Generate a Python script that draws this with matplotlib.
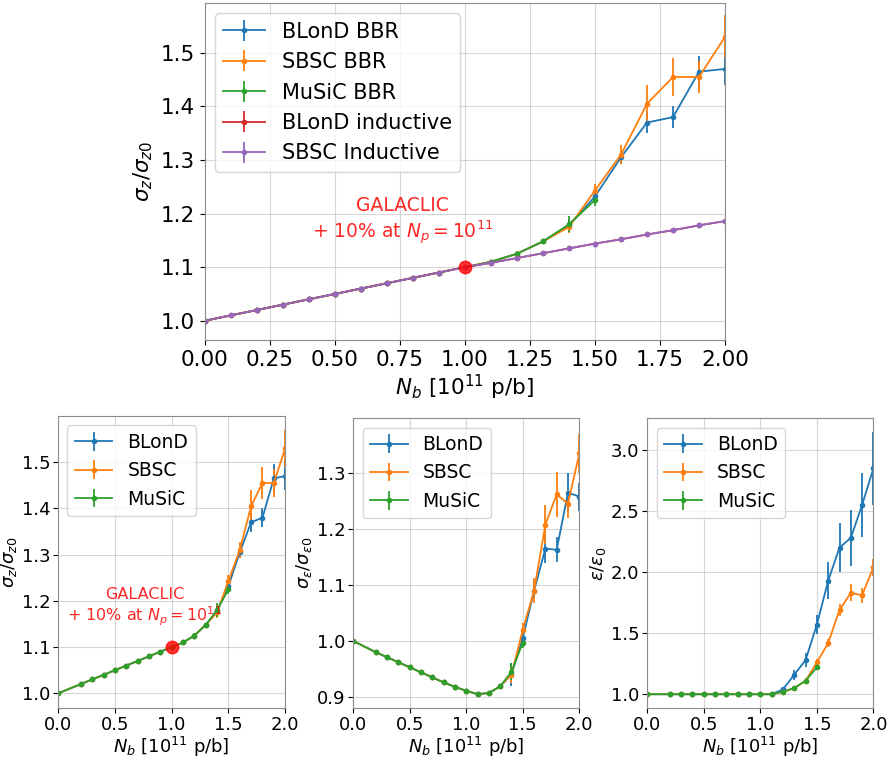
import matplotlib.pyplot as plt

plt.rcParams['font.family'] = ['DejaVu Sans']
plt.rcParams['axes.edgecolor'] = '0.55'

# intensity scan (x) for inductive model and the BBR runs
x_ind = [0.0, 0.1, 0.2, 0.3, 0.4, 0.5, 0.6, 0.7, 0.8, 0.9, 1.0,
         1.1, 1.2, 1.3, 1.4, 1.5, 1.6, 1.7, 1.8, 1.9, 2.0]
x_bbr = [0.0, 0.2, 0.3, 0.4, 0.5, 0.6, 0.7, 0.8, 0.9, 1.0,
         1.1, 1.2, 1.3, 1.4, 1.5, 1.6, 1.7, 1.8, 1.9, 2.0]
x_music = x_bbr[:15]

# inductive bunch lengthening
sz_blond_ind = [1.000, 1.010, 1.020, 1.030, 1.040, 1.050, 1.060, 1.070, 1.080, 1.090, 1.100,
                1.108, 1.117, 1.126, 1.135, 1.144, 1.152, 1.161, 1.169, 1.178, 1.186]
sz_sbsc_ind = [1.000, 1.010, 1.020, 1.030, 1.040, 1.050, 1.060, 1.070, 1.080, 1.090, 1.100,
               1.108, 1.117, 1.126, 1.135, 1.144, 1.152, 1.161, 1.169, 1.178, 1.186]

# sigma_z / sigma_z0 with BBR
sz_blond = [1.000, 1.020, 1.030, 1.040, 1.050, 1.060, 1.070, 1.080, 1.090, 1.100,
            1.110, 1.125, 1.148, 1.178, 1.232, 1.305, 1.370, 1.380, 1.465, 1.470]
sz_blond_err = [0, 0, 0, 0, 0, 0, 0, 0, 0, 0,
                0.003, 0.004, 0.005, 0.012, 0.010, 0.012, 0.020, 0.020, 0.030, 0.030]
sz_sbsc = [1.000, 1.020, 1.030, 1.040, 1.050, 1.060, 1.070, 1.080, 1.090, 1.100,
           1.110, 1.125, 1.148, 1.175, 1.243, 1.310, 1.405, 1.455, 1.455, 1.530]
sz_sbsc_err = [0, 0, 0, 0, 0, 0, 0, 0, 0, 0,
               0.003, 0.004, 0.005, 0.012, 0.012, 0.018, 0.035, 0.035, 0.030, 0.040]
sz_music = [1.000, 1.020, 1.030, 1.040, 1.050, 1.060, 1.070, 1.080, 1.090, 1.100,
            1.110, 1.125, 1.148, 1.180, 1.225]
sz_music_err = [0, 0, 0, 0, 0, 0, 0, 0, 0, 0,
                0.003, 0.005, 0.004, 0.015, 0.010]

# energy spread sigma_eps / sigma_eps0
se_blond = [1.000, 0.980, 0.971, 0.962, 0.953, 0.944, 0.935, 0.926, 0.918, 0.911,
            0.905, 0.907, 0.919, 0.940, 1.005, 1.090, 1.165, 1.163, 1.265, 1.258]
se_blond_err = [0, 0, 0, 0, 0, 0, 0, 0, 0, 0,
                0.003, 0.003, 0.005, 0.020, 0.012, 0.015, 0.025, 0.022, 0.035, 0.025]
se_sbsc = [1.000, 0.980, 0.971, 0.962, 0.953, 0.944, 0.935, 0.926, 0.918, 0.911,
           0.905, 0.907, 0.919, 0.940, 1.020, 1.090, 1.208, 1.262, 1.245, 1.335]
se_sbsc_err = [0, 0, 0, 0, 0, 0, 0, 0, 0, 0,
               0.003, 0.003, 0.005, 0.015, 0.012, 0.022, 0.035, 0.040, 0.025, 0.035]
se_music = [1.000, 0.980, 0.971, 0.962, 0.953, 0.944, 0.935, 0.926, 0.918, 0.911,
            0.905, 0.907, 0.919, 0.945, 0.997]
se_music_err = [0, 0, 0, 0, 0, 0, 0, 0, 0, 0,
                0.003, 0.003, 0.004, 0.015, 0.010]

# emittance eps / eps0
em_blond = [1.00, 1.00, 1.00, 1.00, 1.00, 1.00, 1.00, 1.00, 1.00, 1.00,
            1.00, 1.04, 1.16, 1.28, 1.57, 1.93, 2.20, 2.28, 2.55, 2.85]
em_blond_err = [0, 0, 0, 0, 0, 0, 0, 0, 0, 0,
                0.005, 0.015, 0.04, 0.06, 0.08, 0.15, 0.20, 0.23, 0.26, 0.30]
em_sbsc = [1.00, 1.00, 1.00, 1.00, 1.00, 1.00, 1.00, 1.00, 1.00, 1.00,
           1.00, 1.02, 1.05, 1.11, 1.26, 1.42, 1.69, 1.83, 1.81, 2.04]
em_sbsc_err = [0, 0, 0, 0, 0, 0, 0, 0, 0, 0,
               0.005, 0.01, 0.015, 0.02, 0.03, 0.03, 0.05, 0.07, 0.06, 0.07]
em_music = [1.00, 1.00, 1.00, 1.00, 1.00, 1.00, 1.00, 1.00, 1.00, 1.00,
            1.00, 1.02, 1.05, 1.11, 1.22]
em_music_err = [0, 0, 0, 0, 0, 0, 0, 0, 0, 0,
                0.005, 0.01, 0.01, 0.015, 0.02]

galaclic_x = [1.0]
galaclic_y = [1.1]
galaclic_label = 'GALACLIC\n+ 10% at $N_p = 10^{11}$'
xlabel = '$N_b$ [$10^{11}$ p/b]'

eb = dict(marker='.', markersize=6, lw=1.3, elinewidth=1.3)

fig = plt.figure(figsize=(8.94, 7.59), dpi=100)

# top panel
ax = fig.add_axes([0.229, 0.552, 0.582, 0.444])
ax.errorbar(x_bbr, sz_blond, yerr=sz_blond_err, color='C0', label='BLonD BBR', **eb)
ax.errorbar(x_bbr, sz_sbsc, yerr=sz_sbsc_err, color='C1', label='SBSC BBR', **eb)
ax.errorbar(x_music, sz_music, yerr=sz_music_err, color='C2', label='MuSiC BBR', **eb)
ax.errorbar(x_ind, sz_blond_ind, yerr=0, color='C3', label='BLonD inductive', **eb)
ax.errorbar(x_ind, sz_sbsc_ind, yerr=0, color='C4', label='SBSC Inductive', **eb)
ax.plot(galaclic_x, galaclic_y, 'o', color='red', markersize=9, alpha=0.8, zorder=5)
ax.text(0.76, 1.185, galaclic_label, color='red', ha='center', va='center',
        fontsize=13.5, alpha=0.85)
ax.set_xlim(0, 2)
ax.set_ylim(0.964, 1.593)
ax.set_xticks([0, 0.25, 0.5, 0.75, 1.0, 1.25, 1.5, 1.75, 2.0])
ax.tick_params(labelsize=15.5)
ax.set_xlabel(xlabel, fontsize=15.5, labelpad=2)
ax.set_ylabel(r'$\sigma_z/\sigma_{z0}$', fontsize=15.5)
ax.grid(True, alpha=0.5)
ax.legend(loc='upper left', fontsize=15)

# bottom panels
bottom = [
    ([0.065, 0.067, 0.254, 0.385], (sz_blond, sz_blond_err), (sz_sbsc, sz_sbsc_err),
     (sz_music, sz_music_err), r'$\sigma_z/\sigma_{z0}$', (0.968, 1.600), [1.0, 1.1, 1.2, 1.3, 1.4, 1.5]),
    ([0.395, 0.067, 0.253, 0.382], (se_blond, se_blond_err), (se_sbsc, se_sbsc_err),
     (se_music, se_music_err), r'$\sigma_\varepsilon/\sigma_{\varepsilon0}$', (0.88, 1.398), [0.9, 1.0, 1.1, 1.2, 1.3]),
    ([0.724, 0.067, 0.253, 0.382], (em_blond, em_blond_err), (em_sbsc, em_sbsc_err),
     (em_music, em_music_err), r'$\varepsilon/\varepsilon_0$', (0.886, 3.26), [1.0, 1.5, 2.0, 2.5, 3.0]),
]

for i, (rect, blond, sbsc, music, ylab, ylim, yticks) in enumerate(bottom):
    ax = fig.add_axes(rect)
    ax.errorbar(x_bbr, blond[0], yerr=blond[1], color='C0', label='BLonD', **eb)
    ax.errorbar(x_bbr, sbsc[0], yerr=sbsc[1], color='C1', label='SBSC', **eb)
    ax.errorbar(x_music, music[0], yerr=music[1], color='C2', label='MuSiC', **eb)
    if i == 0:
        ax.plot(galaclic_x, galaclic_y, 'o', color='red', markersize=9, alpha=0.8, zorder=5)
        ax.text(0.76, 1.186, galaclic_label, color='red', ha='center', va='center',
                fontsize=11.5, alpha=0.85)
    ax.set_xlim(0, 2)
    ax.set_ylim(*ylim)
    ax.set_xticks([0, 0.5, 1.0, 1.5, 2.0])
    ax.set_yticks(yticks)
    ax.tick_params(labelsize=13, pad=2)
    ax.set_xlabel(xlabel, fontsize=13, labelpad=1)
    ax.set_ylabel(ylab, fontsize=13, labelpad=2)
    ax.grid(True, alpha=0.5)
    ax.legend(loc='upper left', fontsize=13.5)

fig.savefig('out.png', dpi=100)
